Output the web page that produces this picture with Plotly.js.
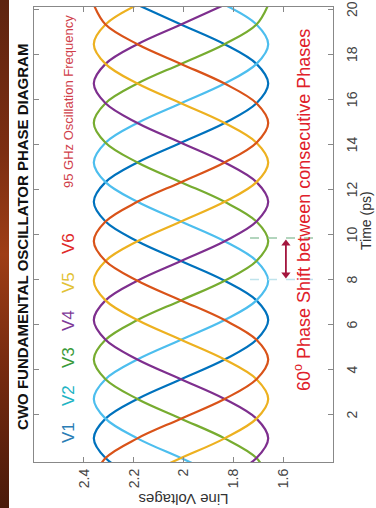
<!DOCTYPE html>
<html>
<head>
<meta charset="utf-8">
<script src="https://cdn.plot.ly/plotly-3.0.1.min.js"></script>
<style>
  html, body { margin: 0; padding: 0; background: #fff; overflow: hidden; }
  body { width: 376px; height: 508px; position: relative; }
  /* the source picture is a MATLAB figure turned on its side */
  #chart {
    position: absolute; left: -66px; top: 66px;
    width: 508px; height: 376px;
    transform: rotate(-90deg);
  }
  #edge {
    position: absolute; left: 0; top: 0; width: 9px; height: 508px;
    background: linear-gradient(to bottom, #5e2410 0%, #7c2e12 30%, #9e3e16 50%, #7a2c10 70%, #4a1a0a 100%);
  }
</style>
</head>
<body>
<div id="chart"></div>
<div id="edge"></div>
<script>
// time samples (ps), one every 30 degrees of the 95 GHz wave
const time = [-0.8, 0.075, 0.95, 1.825, 2.7, 3.575, 4.45, 5.325, 6.2, 7.075, 7.95, 8.825,
  9.7, 10.575, 11.45, 12.325, 13.2, 14.075, 14.95, 15.825, 16.7, 17.575, 18.45, 19.325, 20.2];

// line voltages
const v1 = [2.185, 2.313, 2.36, 2.313, 2.185, 2.01, 1.835, 1.707, 1.66, 1.707, 1.835, 2.01,
  2.185, 2.313, 2.36, 2.313, 2.185, 2.01, 1.835, 1.707, 1.66, 1.707, 1.835, 2.01, 2.185];
const v2 = [1.835, 2.01, 2.185, 2.313, 2.36, 2.313, 2.185, 2.01, 1.835, 1.707, 1.66, 1.707,
  1.835, 2.01, 2.185, 2.313, 2.36, 2.313, 2.185, 2.01, 1.835, 1.707, 1.66, 1.707, 1.835];
const v3 = [1.66, 1.707, 1.835, 2.01, 2.185, 2.313, 2.36, 2.313, 2.185, 2.01, 1.835, 1.707,
  1.66, 1.707, 1.835, 2.01, 2.185, 2.313, 2.36, 2.313, 2.185, 2.01, 1.835, 1.707, 1.66];
const v4 = [1.835, 1.707, 1.66, 1.707, 1.835, 2.01, 2.185, 2.313, 2.36, 2.313, 2.185, 2.01,
  1.835, 1.707, 1.66, 1.707, 1.835, 2.01, 2.185, 2.313, 2.36, 2.313, 2.185, 2.01, 1.835];
const v5 = [2.185, 2.01, 1.835, 1.707, 1.66, 1.707, 1.835, 2.01, 2.185, 2.313, 2.36, 2.313,
  2.185, 2.01, 1.835, 1.707, 1.66, 1.707, 1.835, 2.01, 2.185, 2.313, 2.36, 2.313, 2.185];
const v6 = [2.36, 2.313, 2.185, 2.01, 1.835, 1.707, 1.66, 1.707, 1.835, 2.01, 2.185, 2.313,
  2.36, 2.313, 2.185, 2.01, 1.835, 1.707, 1.66, 1.707, 1.835, 2.01, 2.185, 2.313, 2.36];

const phaseNames = ['V1', 'V2', 'V3', 'V4', 'V5', 'V6'];
const timeTicks = [2, 4, 6, 8, 10, 12, 14, 16, 18, 20];
const voltTicks = [1.6, 1.8, 2, 2.2, 2.4];

// trough times of V2 and V3, marked with the dashed lines
const shiftMarks = [8.0, 9.85];

const lineColors = ['#0072BD', '#4DBEEE', '#77AC30', '#7E2F8E', '#EDB120', '#D95319'];
const labelColors = ['#2a7db5', '#22b4c4', '#3a9a3a', '#7e3a98', '#e2c236', '#e02a2a'];
const labelTimes = [1.23, 2.83, 4.52, 6.16, 7.85, 9.58];

const series = [v1, v2, v3, v4, v5, v6];
const data = series.map((v, i) => ({
  x: time, y: v,
  type: 'scatter', mode: 'lines',
  name: phaseNames[i],
  line: { color: lineColors[i], width: 2.2, shape: 'spline' }
}));

// double arrow between the two marks
data.push({
  x: [shiftMarks[0] + 0.22, shiftMarks[1] - 0.25], y: [1.589, 1.589],
  type: 'scatter', mode: 'lines+markers',
  line: { color: '#a3163e', width: 1.8 },
  marker: { symbol: ['triangle-left', 'triangle-right'], size: 8, color: '#a3163e' }
});

const annotations = phaseNames.map((n, i) => ({
  x: labelTimes[i], y: 2.46, text: n, showarrow: false,
  font: { size: 17, color: labelColors[i] }
}));
annotations.push({
  x: 15.89, y: 2.46, text: '95 GHz Oscillation Frequency', showarrow: false,
  font: { size: 13, color: '#d0404a' }
});
annotations.push({
  x: 11.1, y: 1.524, text: '60<sup>o</sup> Phase Shift between consecutive Phases', showarrow: false,
  font: { size: 18, color: '#e0202a' }
});
// x axis label, close to the edge of the picture as in the source
annotations.push({
  x: 10.6, xref: 'x', y: -0.11, yref: 'paper', yanchor: 'middle',
  text: 'Time (ps)', showarrow: false,
  font: { size: 14, color: '#333' }
});

const markColors = ['#bfe3ec', '#99c8a8'];
const shapes = shiftMarks.map((t, i) => ({
  type: 'line', xref: 'x', yref: 'y',
  x0: t, x1: t, y0: 1.733, y1: 1.46,
  line: { color: markColors[i], width: 1.5, dash: 'dash' }
}));

const axisStyle = {
  ticks: 'inside', ticklen: 5, tickcolor: '#888', tickwidth: 1,
  showline: true, linecolor: '#888', linewidth: 1, mirror: 'ticks',
  showgrid: false, zeroline: false,
  tickfont: { size: 14, color: '#444' }
};

const layout = {
  width: 508, height: 376,
  margin: { l: 46, r: 7, t: 34, b: 43 },
  paper_bgcolor: '#fff', plot_bgcolor: '#fff',
  font: { family: 'Liberation Sans, Arial, sans-serif', color: '#333' },
  showlegend: false,
  title: {
    text: '<b>CWO FUNDAMENTAL OSCILLATOR PHASE DIAGRAM</b>',
    font: { size: 15, color: '#111' },
    xref: 'container', yref: 'container', x: 0.534, y: 0.94,
    xanchor: 'center', yanchor: 'middle'
  },
  xaxis: Object.assign({}, axisStyle, {
    range: [-0.1, 20.1], tickvals: timeTicks, ticklabelstandoff: 6
  }),
  yaxis: Object.assign({}, axisStyle, {
    range: [1.4, 2.6], tickvals: voltTicks, ticklabelstandoff: 3,
    title: { text: 'Line Voltages', font: { size: 15, color: '#333' }, standoff: 2 }
  }),
  annotations: annotations,
  shapes: shapes
};

Plotly.newPlot('chart', data, layout, { staticPlot: true, displayModeBar: false });
</script>
</body>
</html>
